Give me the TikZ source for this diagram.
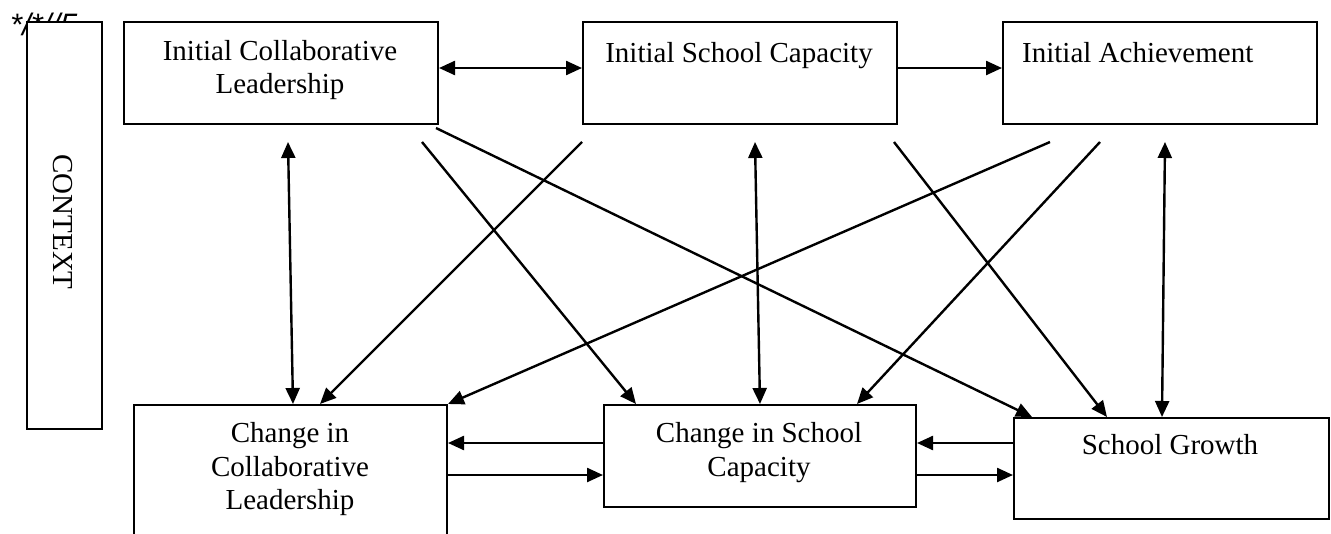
\documentclass[tikz,border=0pt]{standalone}
\usepackage{fontspec}
\setmainfont{Liberation Serif}
\newfontfamily\asans{Liberation Sans}
\usetikzlibrary{arrows.meta,calc}
\begin{document}
\begin{tikzpicture}[x=1pt,y=-1pt,
  box/.style={draw, line width=2pt, fill=white, anchor=north west, inner sep=0pt},
  lbl/.style={inner sep=0pt, anchor=base, font=\fontsize{29}{33}\selectfont},
  arr/.style={line width=2.4pt, -{Triangle[length=16pt,width=14pt]}},
  darr/.style={line width=2.4pt, {Triangle[length=16pt,width=14pt]}-{Triangle[length=16pt,width=14pt]}}]
\useasboundingbox (0,0) rectangle (1331,533);

% stray mark at top left
\node[anchor=base west, inner sep=0pt, font=\asans\itshape\fontsize{31}{31}\selectfont] (mark) at (10,35) {*/*//5};

% boxes
\node[box, minimum width=75pt, minimum height=407pt] (ctx) at (26,21) {};
\node[box, minimum width=314pt, minimum height=102pt] (b1) at (123,21) {};
\node[box, minimum width=314pt, minimum height=102pt] (b2) at (582,21) {};
\node[box, minimum width=314pt, minimum height=102pt] (b3) at (1002,21) {};
\node[box, minimum width=313pt, minimum height=160pt] (b4) at (133,404) {};
\node[box, minimum width=312pt, minimum height=102pt] (b5) at (603,404) {};
\node[box, minimum width=315pt, minimum height=101pt] (b6) at (1013,417) {};

% labels
\node[inner sep=0pt, rotate=-90, font=\fontsize{29}{33}\selectfont] (ctxl) at (63,222) {CONTEXT};
\node[lbl] (t1a) at (280,60) {Initial Collaborative};
\node[lbl] (t1b) at (280,93) {Leadership};
\node[lbl] (t2a) at (739,62) {Initial School Capacity};
\node[lbl, anchor=base west] (t3a) at (1022,62) {Initial Achievement};
\node[lbl] (t4a) at (290,442) {Change in};
\node[lbl] (t4b) at (290,476) {Collaborative};
\node[lbl] (t4c) at (290,509) {Leadership};
\node[lbl] (t5a) at (759,442) {Change in School};
\node[lbl] (t5b) at (759,476) {Capacity};
\node[lbl] (t6a) at (1170,454) {School Growth};

% top row connectors
\draw[darr] ([yshift=5pt]b1.east) -- ([yshift=5pt]b1.east -| b2.west);
\draw[arr] ([yshift=5pt]b2.east) -- ([yshift=5pt]b2.east -| b3.west);

% bottom row connectors
\draw[arr] ([yshift=13pt]b5.west) -- ([yshift=13pt]b5.west -| b4.east);
\draw[arr] ([yshift=-19pt]b5.west -| b4.east) -- ([yshift=-19pt]b5.west);
\draw[arr] ([yshift=13pt]b5.east -| b6.west) -- ([yshift=13pt]b5.east);
\draw[arr] ([yshift=-19pt]b5.east) -- ([yshift=-19pt]b5.east -| b6.west);

% free start points below the top boxes
\coordinate (v1) at (288,142);
\coordinate (v2) at (755,142);
\coordinate (v3) at (1165,142);
\coordinate (s1a) at (422,142);
\coordinate (s1b) at (436,128);
\coordinate (s2a) at (582,142);
\coordinate (s2b) at (894,142);
\coordinate (s3a) at (1050,142);
\coordinate (s3b) at (1100,142);

% vertical two-way connectors
\draw[darr] (v1) -- ($(b4.north west)+(160,0)$);
\draw[darr] (v2) -- ($(b5.north west)+(157,0)$);
\draw[darr] (v3) -- ($(b6.north west)+(149,0)$);

% diagonal connectors
\draw[arr] (s1a) -- ($(b5.north west)+(33,0)$);
\draw[arr] (s1b) -- ($(b6.north west)+(19,0)$);
\draw[arr] (s2a) -- ($(b4.north west)+(187,0)$);
\draw[arr] (s2b) -- ($(b6.north west)+(94,0)$);
\draw[arr] (s3a) -- (b4.north east);
\draw[arr] (s3b) -- ($(b5.north west)+(254,0)$);
\end{tikzpicture}
\end{document}
